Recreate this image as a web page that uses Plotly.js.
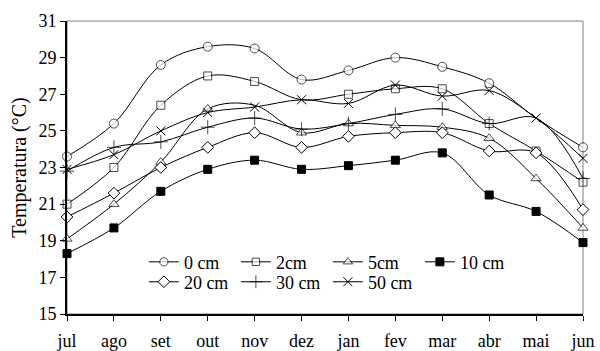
<!DOCTYPE html>
<html>
<head>
<meta charset="utf-8">
<script src="https://cdn.plot.ly/plotly-3.0.1.min.js"></script>
<style>html,body{margin:0;padding:0;background:#fff}#chart{width:600px;height:351px}</style>
</head>
<body>
<div id="chart"></div>
<script>
var months = ['jul','ago','set','out','nov','dez','jan','fev','mar','abr','mai','jun'];
var cm0  = [23.6,25.4,28.6,29.6,29.5,27.8,28.3,29.0,28.5,27.6,25.7,24.1];
var cm2  = [21.0,23.0,26.4,28.0,27.7,26.7,27.0,27.3,27.3,25.4,23.9,22.2];
var cm5  = [19.1,21.0,23.3,26.2,26.4,24.9,25.4,25.3,25.2,24.6,22.4,19.7];
var cm10 = [18.3,19.7,21.7,22.9,23.4,22.9,23.1,23.4,23.8,21.5,20.6,18.9];
var cm20 = [20.3,21.6,23.0,24.1,24.9,24.1,24.7,24.9,24.9,23.9,23.8,20.7];
var cm30 = [22.8,24.1,24.4,25.2,25.7,25.1,25.4,25.9,26.2,25.4,25.7,22.4];
var cm50 = [22.9,23.7,25.0,26.0,26.3,26.7,26.5,27.5,26.9,27.2,25.7,23.5];
var seriesNames = ['0 cm','2cm','5cm','10 cm','20 cm','30 cm','50 cm'];

var FONT = '"Liberation Serif", "Times New Roman", serif';
// markers not drawn in the reference where points coincide (styling only)
function sizes(n, size, hide) {
  var s = [];
  for (var i = 0; i < n; i++) s.push(hide.indexOf(months[i]) >= 0 ? 0 : size);
  return hide.length ? s : size;
}
function tr(y, name, sym, size, fill, lg, hide) {
  return {
    x: months, y: y, name: name, type: 'scatter', mode: 'lines+markers',
    line: {color: '#000', width: 1, shape: 'spline', smoothing: 1},
    marker: {symbol: sym, size: sizes(y.length, size, hide || []), color: fill, line: {color: '#000', width: 1}},
    cliponaxis: false, legend: lg
  };
}
var data = [
  tr(cm0,  seriesNames[0], 'circle', 9, '#fff', 'legend', ['mai']),
  tr(cm2,  seriesNames[1], 'square', 8, '#fff', 'legend', ['dez']),
  tr(cm5,  seriesNames[2], 'triangle-up', 9, '#fff', 'legend', ['nov']),
  tr(cm10, seriesNames[3], 'square', 8, '#000', 'legend'),
  tr(cm20, seriesNames[4], 'diamond', 9, '#fff', 'legend2'),
  tr(cm30, seriesNames[5], 'cross-thin', 10, '#000', 'legend2', ['mai']),
  tr(cm50, seriesNames[6], 'x-thin', 9, '#000', 'legend2')
];
var legBase = {
  orientation: 'h', xanchor: 'left', yanchor: 'middle',
  entrywidth: 47, entrywidthmode: 'pixels', bgcolor: 'rgba(0,0,0,0)',
  font: {family: FONT, size: 18, color: '#000'}, traceorder: 'normal'
};
var layout = {
  width: 600, height: 351,
  margin: {l: 67, r: 17, t: 21, b: 37},
  paper_bgcolor: '#fff', plot_bgcolor: '#fff',
  font: {family: FONT, size: 18, color: '#000'},
  xaxis: {
    type: 'category', range: [0, 11], showgrid: false, zeroline: false,
    showline: true, linecolor: '#000', linewidth: 1.5,
    ticks: 'outside', ticklen: 5, tickcolor: '#000', ticklabelstandoff: 5,
    tickfont: {family: FONT, size: 18, color: '#000'}
  },
  yaxis: {
    range: [15, 31], dtick: 2, tick0: 15, showgrid: false, zeroline: false,
    showline: true, linecolor: '#000', linewidth: 2,
    ticks: 'outside', ticklen: 5, tickcolor: '#000',
    tickfont: {family: FONT, size: 18, color: '#000'},
    title: {text: 'Temperatura (°C)', font: {family: FONT, size: 20, color: '#000'}, standoff: 6}
  },
  shapes: [{type: 'rect', xref: 'paper', yref: 'paper', x0: 0, x1: 1, y0: 0, y1: 1,
            line: {color: '#808080', width: 1}, layer: 'below'}],
  legend: Object.assign({}, legBase, {x: 0.149, y: 0.177}),
  legend2: Object.assign({}, legBase, {x: 0.149, y: 0.109}),
  showlegend: true
};
Plotly.newPlot('chart', data, layout, {displayModeBar: false, staticPlot: true});
</script>
</body>
</html>
